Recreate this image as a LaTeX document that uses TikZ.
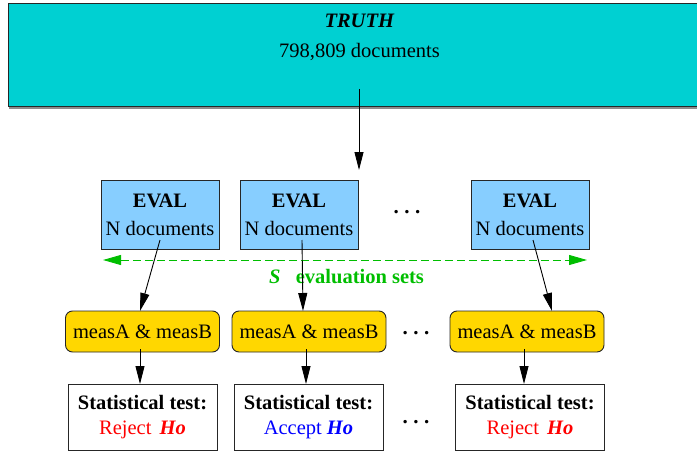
\documentclass[tikz,border=0pt]{standalone}
\usepackage{fontspec}
\setmainfont{Liberation Serif}
\usetikzlibrary{arrows.meta,calc}
\definecolor{truthcyan}{RGB}{0,208,210}
\definecolor{evalblue}{RGB}{135,206,255}
\definecolor{measgold}{RGB}{255,215,0}
\definecolor{setgreen}{RGB}{0,190,0}
\definecolor{rejectred}{RGB}{255,0,0}
\definecolor{acceptblue}{RGB}{0,0,255}

\begin{document}
\begin{tikzpicture}[x=1pt,y=-1pt,
  font=\fontsize{20.5}{28}\selectfont,
  every node/.style={inner sep=0pt, outer sep=0pt},
  box/.style={draw=black!85, line width=0.9pt},
  truthbox/.style={box, fill=truthcyan, minimum width=703pt, minimum height=103pt},
  evalbox/.style={box, fill=evalblue, minimum width=118pt, minimum height=69pt, align=center},
  measbox/.style={box, fill=measgold, rounded corners=7pt, minimum width=154pt, minimum height=41pt},
  statbox/.style={box, fill=white, minimum width=149pt, minimum height=66pt, align=center,
    font=\fontsize{20.5}{25}\selectfont},
  flow/.style={line width=0.9pt, -{Triangle[length=18pt,width=9pt]}},
  setarrow/.style={setgreen, line width=0.9pt, dash pattern=on 8pt off 4pt,
    {Triangle[length=18pt,width=10pt]}-{Triangle[length=18pt,width=10pt]}},
  ellipsis/.style={anchor=base, font=\fontsize{21}{28}\selectfont\bfseries}
]
\newcommand{\wideddots}{.\hspace{5.5pt}.\hspace{5.5pt}.}
\useasboundingbox (0,0) rectangle (697,452);
\clip (0,0) rectangle (697,452);

% ground-truth collection
\draw[black!45, line width=1.2pt] (9,108) -- (700,108);
\node[truthbox, anchor=north west] (truth) at (8,3) {};
\node[anchor=north, align=center, font=\fontsize{20.5}{30}\selectfont] (truthtext)
  at ($(truth.north)+(0,11)$) {\textbf{\textit{TRUTH}}\\798,809 documents};

% evaluation sets
\node[evalbox] (e1) at (160,214.5) {\textbf{EVAL}\\N documents};
\node[evalbox] (e2) at (299,214.5) {\textbf{EVAL}\\N documents};
\node[evalbox] (e3) at (530,214.5) {\textbf{EVAL}\\N documents};
\node[ellipsis] (dots1) at (407,213.5) {\wideddots};

% sampling arrow
\coordinate (truthout) at (359,89);
\coordinate (truthin) at (359,170);
\draw[flow] (truthout) -- (truthin);

% span of the S evaluation sets
\coordinate (setl) at (103,260);
\coordinate (setr) at (587,260);
\draw[setarrow] (setl) -- (setr);
\node[text=setgreen, font=\fontsize{20.5}{28}\selectfont\bfseries] (setlabel) at (346.5,277)
  {\textit{S}\hspace{0.5em} evaluation sets};

% measurements
\node[measbox] (m1) at (142.5,331.5) {measA \& measB};
\node[measbox] (m2) at (309,331.5) {measA \& measB};
\node[measbox] (m3) at (527,331.5) {measA \& measB};
\node[ellipsis] (dots2) at (416,334) {\wideddots};

% statistical tests
\node[statbox] (s1) at (142.5,417) {\textbf{Statistical test:}\\\textcolor{rejectred}{Reject\hspace{0.4em}\textbf{\textit{Ho}}}};
\node[statbox] (s2) at (308.5,417) {\textbf{Statistical test:}\\\textcolor{acceptblue}{Accept \textbf{\textit{Ho}}}};
\node[statbox] (s3) at (530,417) {\textbf{Statistical test:}\\\textcolor{rejectred}{Reject\hspace{0.4em}\textbf{\textit{Ho}}}};
\node[ellipsis] (dots3) at (416,423.5) {\wideddots};

% eval -> measurements
\coordinate (e1out) at ($(e1)+(0,25.5)$);
\coordinate (e2out) at ($(e2)+(3,25.5)$);
\coordinate (e3out) at ($(e3)+(3,25.5)$);
\coordinate (m1in) at ($(m1.north)+(-2.5,0)$);
\coordinate (m2in) at ($(m2.north)+(-6,0)$);
\coordinate (m3in) at ($(m3.north)+(25,0)$);
\draw[flow] (e1out) -- (m1in);
\draw[flow] (e2out) -- (m2in);
\draw[flow] (e3out) -- (m3in);

% measurements -> tests
\coordinate (m1out) at ($(m1.south)+(-2.5,-3)$);
\coordinate (m2out) at ($(m2.south)+(-3,-3)$);
\coordinate (m3out) at ($(m3.south)+(-3,-3)$);
\draw[flow] (m1out) -- (m1out |- s1.north);
\draw[flow] (m2out) -- (m2out |- s2.north);
\draw[flow] (m3out) -- (m3out |- s3.north);
\end{tikzpicture}
\end{document}
